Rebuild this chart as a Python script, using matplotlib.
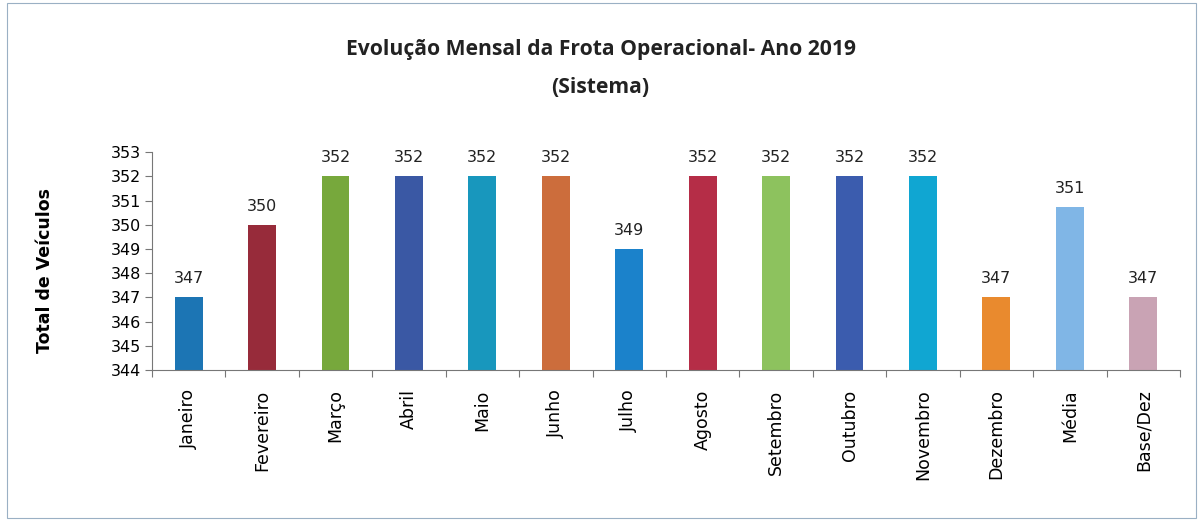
import matplotlib.pyplot as plt
from matplotlib.patches import Rectangle

meses = ["Janeiro", "Fevereiro", "Março", "Abril", "Maio", "Junho", "Julho",
         "Agosto", "Setembro", "Outubro", "Novembro", "Dezembro", "Média", "Base/Dez"]
frota = [347, 350, 352, 352, 352, 352, 349, 352, 352, 352, 352, 347, 350.75, 347]
rotulos = ["347", "350", "352", "352", "352", "352", "349",
           "352", "352", "352", "352", "347", "351", "347"]
cores = ["#1c75b4", "#972b3a", "#77a83c", "#3a58a4", "#1897bd", "#cc6d3c", "#1b82cb",
         "#b52d47", "#8dc25e", "#3b5cae", "#10a6d2", "#e98a2e", "#80b6e6", "#c9a3b4"]

fig = plt.figure(figsize=(12.01, 5.21), dpi=100)
fig.patches.append(Rectangle((0.006, 0.005), 0.99, 0.99, transform=fig.transFigure,
                             fill=False, edgecolor="#9ab0c4", linewidth=0.8))

ax = fig.add_axes([0.1265, 0.290, 0.856, 0.418])
x = range(len(meses))
ax.bar(x, frota, width=0.38, color=cores, bottom=0)
for i, (v, r) in enumerate(zip(frota, rotulos)):
    ax.text(i, v + 0.45, r, ha="center", va="bottom", fontsize=11.5, color="#222222",
            family="DejaVu Sans")

ax.set_ylim(344, 353)
ax.set_xlim(-0.5, len(meses) - 0.5)
ax.set_yticks(range(344, 354))
ax.set_yticklabels([str(v) for v in range(344, 354)], fontsize=11.5, family="DejaVu Sans")
ax.set_xticks([i - 0.5 for i in range(len(meses) + 1)], minor=False)
ax.set_xticklabels([])
ax.set_xticks(list(x), minor=True)
ax.set_xticklabels(meses, minor=True, rotation=90, fontsize=12.5, family="DejaVu Sans")
ax.tick_params(axis="x", which="minor", length=0, pad=14)
ax.tick_params(axis="x", which="major", length=5, color="#777777")
ax.tick_params(axis="y", length=5, color="#777777", pad=3)
for s in ["top", "right"]:
    ax.spines[s].set_visible(False)
for s in ["left", "bottom"]:
    ax.spines[s].set_color("#777777")
ax.set_ylabel("Total de Veículos", fontsize=12.5, fontweight="bold", family="DejaVu Sans")
ax.yaxis.set_label_coords(-0.095, 0.455)

fig.text(0.5, 0.905, "Evolução Mensal da Frota Operacional- Ano 2019", ha="center",
         va="center", fontsize=15.2, fontweight="bold", family="Open Sans", color="#222222")
fig.text(0.5, 0.832, "(Sistema)", ha="center", va="center", fontsize=15.2,
         fontweight="bold", family="Open Sans", color="#222222")

fig.savefig("out.png", dpi=100)
